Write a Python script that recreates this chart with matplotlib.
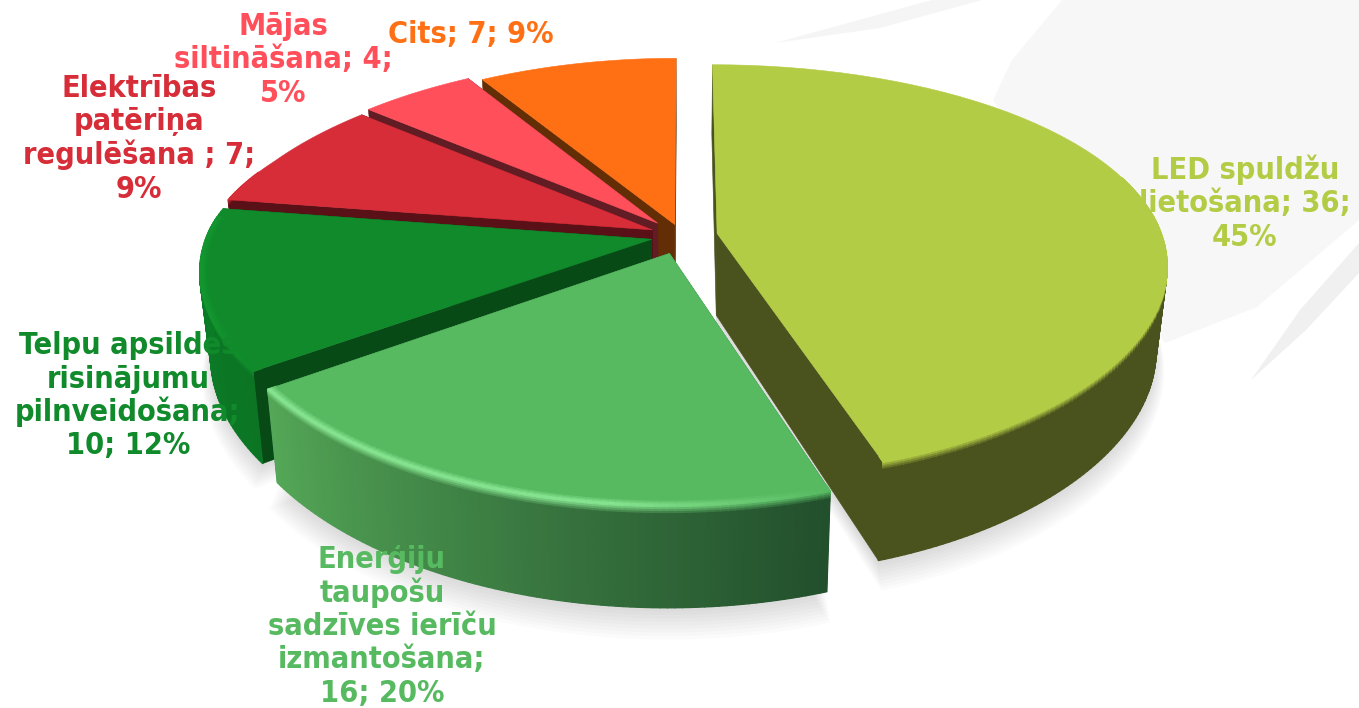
import numpy as np
import matplotlib
matplotlib.use('Agg')
import matplotlib.pyplot as plt
from matplotlib.collections import PolyCollection
from matplotlib.colors import to_rgb
from matplotlib.patches import Polygon

categories = ['LED spuldžu lietošana', 'Enerģiju taupošu sadzīves ierīču izmantošana',
              'Telpu apsildes risinājumu pilnveidošana', 'Elektrības patēriņa regulēšana ',
              'Mājas siltināšana', 'Cits']
values = [36, 16, 10, 7, 4, 7]

# where the label lines break
label_lines = [
    ['LED spuldžu', 'lietošana; {v};', '{p}%'],
    ['Enerģiju', 'taupošu', 'sadzīves ierīču', 'izmantošana;', '{v}; {p}%'],
    ['Telpu apsildes', 'risinājumu', 'pilnveidošana;', '{v}; {p}%'],
    ['Elektrības', 'patēriņa', 'regulēšana ; {v};', '{p}%'],
    ['Mājas', 'siltināšana; {v};', '{p}%'],
    ['Cits; {v}; {p}%'],
]
# centre x of each label and baseline y of its first line
label_xy = [(1245, 179), (382, 568), (128, 354), (139, 97), (283, 35), (471, 43)]
line_step = 33.5

top_colors = ['#B3CC45', '#57BA61', '#108A2B', '#D62D38', '#FF4F5B', '#FF7015']
rim_colors = ['#B3CC45', '#85E38F', '#13962F', '#D62D38', '#FF4F5B', '#FF7015']
cut_colors = ['#4A521D', '#2E6B35', '#074A16', '#5A1017', '#611C24', '#632E05']
wall_start = ['#4A521D', '#224F2C', '#0B7524', '#5A1017', '#611C24', '#632E05']
wall_end = ['#4A521D', '#55A858', '#0B8028', '#5A1017', '#611C24', '#632E05']
explode = [0.08, 0.09, 0.07, 0.074, 0.085, 0.06]

cx, cy = 682, 236
rx, ry = 445, 200
persp_x, persp_x_back, persp_y = 0.15, 0.22, 0.18
depth = 82
shrink = 0.00028


def project(x, y, z=0.0):
    x, y = np.asarray(x, float), np.asarray(y, float)
    # the far left of the pie narrows a little faster
    ramp = np.clip(y / 0.4, 0, 1) * (x < 0)
    kx = persp_x + (persp_x_back - persp_x) * ramp
    sx = 1 / (1 + kx * y)
    sy = 1 / (1 + persp_y * y)
    return cx + rx * x * sx * (1 - shrink * z), cy - ry * y * sy + z * sy


def mix(a, b, t):
    a, b = np.array(to_rgb(a)), np.array(to_rgb(b))
    return tuple(a + (b - a) * t)


def add_quads(ax, quads, colors, zorder):
    ax.add_collection(PolyCollection(quads, facecolors=colors, edgecolors=colors,
                                     linewidths=1.0, zorder=zorder))


def wedge_outline(ox, oy, a0, a1, z=0.0, grow=1.0):
    th = np.linspace(a0, a1, 60)
    xs = np.r_[ox, ox + grow * np.sin(th)]
    ys = np.r_[oy, oy + grow * np.cos(th)]
    return np.column_stack(project(xs, ys, z))


fig = plt.figure(figsize=(13.59, 7.08), dpi=100)
ax = fig.add_axes([0, 0, 1, 1])
ax.set_xlim(0, 1359)
ax.set_ylim(708, 0)
ax.axis('off')

# faint swooshes of the slide background
ax.add_patch(Polygon([(993, 100), (1012, 60), (1062, 0), (1359, 0), (1359, 220), (1257, 307), (1165, 343)],
                     fc='#F7F7F7', ec='none', zorder=0))
ax.add_patch(Polygon([(1251, 380), (1300, 310), (1359, 243), (1359, 273), (1306, 330)],
                     fc='#F0F0F0', ec='none', zorder=0))
ax.add_patch(Polygon([(775, 43), (932, 0), (982, 0), (880, 28)], fc='#F5F5F5', ec='none', zorder=0))

total = sum(values)
edges = np.r_[0, np.cumsum(values)] / total * 2 * np.pi
draw_order = [5, 4, 3, 2, 0, 1]

for n, i in enumerate(draw_order):
    a0, a1 = edges[i], edges[i + 1]
    mid = (a0 + a1) / 2
    ox, oy = explode[i] * np.sin(mid), explode[i] * np.cos(mid)
    base = 10 + n * 3

    # soft shadow
    for k in range(9):
        ax.add_patch(Polygon(wedge_outline(ox, oy, a0, a1, depth + 3 + k * 2, 1 + k * 0.003),
                             fc='#808080', ec='none', alpha=0.03, zorder=2))

    # the two cut faces
    for a in (a0, a1):
        x1, y1 = ox + np.sin(a), oy + np.cos(a)
        face = [project(ox, oy), project(x1, y1), project(x1, y1, depth), project(ox, oy, depth)]
        ax.add_patch(Polygon(face, fc=cut_colors[i], ec=cut_colors[i], lw=0.4, zorder=base))

    # outer wall with a bevel at the top
    th = np.linspace(a0, a1, int((a1 - a0) * 70) + 2)
    zs = np.r_[np.linspace(0, 8, 6), depth]
    quads, colors = [], []
    for t0, t1 in zip(th[:-1], th[1:]):
        if np.cos(t0) > 0.3:
            continue
        frac = (t0 - a0) / (a1 - a0)
        wall = mix(wall_start[i], wall_end[i], frac)
        # highlight of the rim dies out towards the dark end of the wall
        rim = mix(top_colors[i], rim_colors[i], min(frac * 3, 1))
        for z0, z1 in zip(zs[:-1], zs[1:]):
            p = [project(ox + np.sin(t0), oy + np.cos(t0), z0), project(ox + np.sin(t1), oy + np.cos(t1), z0),
                 project(ox + np.sin(t1), oy + np.cos(t1), z1), project(ox + np.sin(t0), oy + np.cos(t0), z1)]
            quads.append(p)
            colors.append(mix(rim, wall, min(z0 / 6.4, 1)))
    add_quads(ax, quads, colors, base + 1)

    # top face and its rim
    ax.add_patch(Polygon(wedge_outline(ox, oy, a0, a1), fc=top_colors[i], ec=top_colors[i], lw=0.4, zorder=base + 2))
    rs = np.linspace(0.98, 1.0, 5)
    quads, colors = [], []
    for t0, t1 in zip(th[:-1], th[1:]):
        if np.cos(t0) > 0.1:
            continue
        frac = (t0 - a0) / (a1 - a0)
        rim = mix(top_colors[i], rim_colors[i], min(frac * 3, 1))
        for r0, r1 in zip(rs[:-1], rs[1:]):
            quads.append([project(ox + r0 * np.sin(t0), oy + r0 * np.cos(t0)),
                          project(ox + r0 * np.sin(t1), oy + r0 * np.cos(t1)),
                          project(ox + r1 * np.sin(t1), oy + r1 * np.cos(t1)),
                          project(ox + r1 * np.sin(t0), oy + r1 * np.cos(t0))])
            colors.append(mix(top_colors[i], rim, (r0 - 0.98) / 0.015))
    add_quads(ax, quads, colors, base + 2)

for i, lines in enumerate(label_lines):
    pct = f'{100 * values[i] / total:.0f}'
    x0, y0 = label_xy[i]
    for j, line in enumerate(lines):
        ax.text(x0, y0 + j * line_step, line.format(v=values[i], p=pct), color=top_colors[i], fontsize=22,
                fontweight='bold', family='DejaVu Sans', stretch='condensed', ha='center', va='baseline', zorder=50)

fig.savefig('out.png', dpi=100)
